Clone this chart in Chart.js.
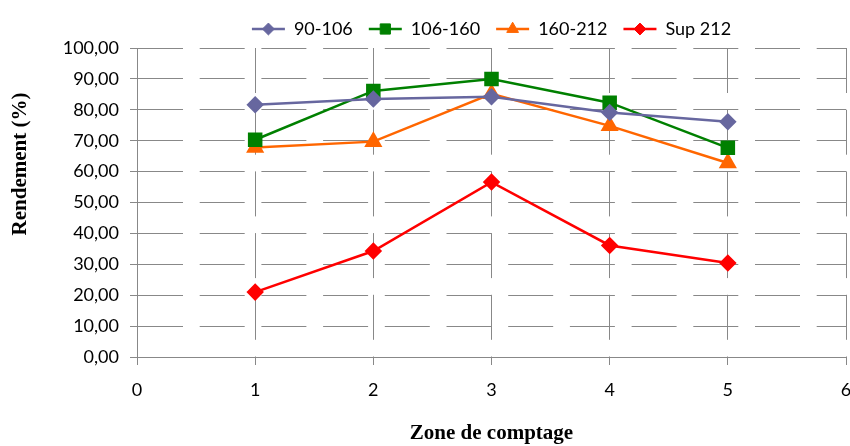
<!DOCTYPE html>
<html>
<head>
<meta charset="utf-8">
<script src="https://cdn.jsdelivr.net/npm/chart.js@4/dist/chart.umd.min.js"></script>
<style>
  html, body { margin: 0; padding: 0; background: #fff; }
  #wrap { width: 850px; height: 446px; }
</style>
</head>
<body>
<div id="wrap"><canvas id="myChart" width="850" height="446"></canvas></div>
<script>
// data
const zones = [1, 2, 3, 4, 5];
const s90_106 = [81.6, 83.5, 84.2, 79.1, 76.1];
const s106_160 = [70.3, 86.1, 90.0, 82.3, 67.7];
const s160_212 = [67.8, 69.7, 85.2, 74.8, 62.8];
const sSup212 = [21.0, 34.3, 56.6, 36.1, 30.4];

const yMin = 0, yMax = 100, yStep = 10;
const xMin = 0, xMax = 6;

const gridColor = '#888888';
const longDash = [45, 16.7];
const tickFont = { family: 'Lato', size: 18 };
const titleFont = { family: 'Liberation Serif', size: 21, weight: 'bold' };

const pts = vals => vals.map((v, i) => ({ x: zones[i], y: v }));

function series(label, vals, color, style, radius) {
    return {
        label: label,
        data: pts(vals),
        borderColor: color,
        backgroundColor: color,
        pointBackgroundColor: color,
        pointBorderColor: color,
        pointStyle: style,
        pointRadius: radius,
        pointHoverRadius: radius,
        borderWidth: 2.5,
        tension: 0
    };
}

// legend: line with the marker on it, like the spreadsheet
const legendMarkers = {
    id: 'legendMarkers',
    afterDraw(chart) {
        const ctx = chart.ctx;
        const lg = chart.legend;
        lg.legendHitBoxes.forEach((box, i) => {
            const ds = chart.data.datasets[i];
            const cy = box.top + box.height / 2;
            ctx.save();
            ctx.strokeStyle = ds.borderColor;
            ctx.fillStyle = ds.pointBackgroundColor;
            ctx.lineWidth = 2.5;
            ctx.beginPath();
            ctx.moveTo(box.left, cy);
            ctx.lineTo(box.left + 33, cy);
            ctx.stroke();
            ctx.lineWidth = 1;
            Chart.helpers.drawPoint(ctx, {
                pointStyle: ds.pointStyle,
                radius: ds.pointRadius * 0.85,
                rotation: 0,
                borderWidth: 1
            }, box.left + 16.5, cy);
            ctx.restore();
        });
    }
};

// y title sits a bit above the middle of the plot in the original
const yTitle = {
    id: 'yTitle',
    afterDraw(chart) {
        const ctx = chart.ctx;
        ctx.save();
        ctx.translate(21, 164);
        ctx.rotate(-Math.PI / 2);
        ctx.font = 'bold 21px "Liberation Serif"';
        ctx.fillStyle = '#000';
        ctx.textAlign = 'center';
        ctx.textBaseline = 'middle';
        ctx.fillText('Rendement (%)', 0, 0);
        ctx.restore();
    }
};

const myChartRef = document.getElementById('myChart').getContext('2d');
new Chart(myChartRef, {
    type: 'line',
    data: {
        datasets: [
            series('90-106', s90_106, '#67679F', 'rectRot', 7),
            series('106-160', s106_160, '#008000', 'rect', 8.5),
            series('160-212', s160_212, '#FF6600', 'triangle', 8),
            series('Sup 212', sSup212, '#FF0000', 'rectRot', 7)
        ]
    },
    options: {
        responsive: false,
        animation: false,
        layout: { autoPadding: false, padding: { left: 0, right: 0, top: -7, bottom: 0 } },
        plugins: {
            tooltip: { enabled: false },
            legend: {
                position: 'top',
                fullSize: false,
                labels: {
                    font: tickFont,
                    color: '#000',
                    boxWidth: 33,
                    boxHeight: 12,
                    padding: 16,
                    generateLabels(chart) {
                        return Chart.defaults.plugins.legend.labels.generateLabels(chart).map(item => {
                            item.fillStyle = 'rgba(0,0,0,0)';
                            item.strokeStyle = 'rgba(0,0,0,0)';
                            item.lineWidth = 0;
                            return item;
                        });
                    }
                }
            }
        },
        scales: {
            x: {
                type: 'linear',
                min: xMin,
                max: xMax,
                ticks: { stepSize: 1, font: tickFont, color: '#000', padding: 14 },
                grid: {
                    color: gridColor,
                    lineWidth: 1,
                    tickLength: 8,
                    tickBorderDash: []
                },
                border: { display: true, color: gridColor, width: 1, dash: longDash, dashOffset: 0 },
                title: {
                    display: true,
                    text: 'Zone de comptage',
                    font: titleFont,
                    color: '#000',
                    padding: { top: 4, bottom: 0 }
                },
                afterFit(scale) {
                    scale.height = 89;
                    scale.paddingRight = 4;
                }
            },
            y: {
                min: yMin,
                max: yMax,
                ticks: {
                    stepSize: yStep,
                    font: tickFont,
                    color: '#000',
                    padding: 11,
                    callback: v => v.toFixed(2).replace('.', ',')
                },
                grid: {
                    color: gridColor,
                    lineWidth: 1,
                    tickLength: 7,
                    tickBorderDash: []
                },
                border: { display: true, color: gridColor, width: 1, dash: longDash, dashOffset: 0 },
                afterFit(scale) {
                    scale.width = 137;
                    scale.paddingTop = 48;
                }
            }
        }
    },
    plugins: [legendMarkers, yTitle]
});
</script>
</body>
</html>
